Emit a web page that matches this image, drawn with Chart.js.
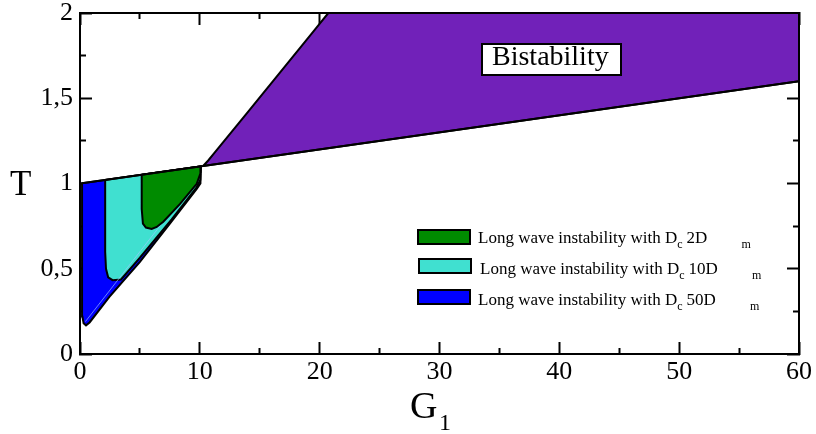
<!DOCTYPE html>
<html>
<head>
<meta charset="utf-8">
<script src="https://cdn.jsdelivr.net/npm/chart.js@4.4.1/dist/chart.umd.min.js"></script>
<style>
  body { margin: 0; background: #fff; }
  #wrap { position: relative; width: 816px; height: 434px; font-family: 'Liberation Serif', 'Times New Roman', serif; color: #000; }
  #wrap canvas { position: absolute; left: 0; top: 0; }
  .txt { position: absolute; white-space: nowrap; line-height: 1; }
  .sub { position: relative; top: 5px; font-size: 12px; }
  .sub.c { margin-right: 4px; }
  .sub.m { margin-left: 34px; }
  .swatch { position: absolute; width: 54px; height: 16px; border: 2px solid #000; box-sizing: border-box; }
  .leg { font-size: 17px; }
  #bistBox { position: absolute; left: 481px; top: 43px; width: 141px; height: 33px; border: 2px solid #000; background: #fff; box-sizing: border-box; }
</style>
</head>
<body>
<div id="wrap">
  <canvas id="chart" width="816" height="434"></canvas>

  <div id="bistBox"></div>
  <div class="txt" style="left:492px; top:42px; font-size:28px;">Bistability</div>

  <div class="swatch" style="left:417px; top:229px; background:#008b00;"></div>
  <div class="txt leg" style="left:478px; top:229px;">Long wave instability with D<span class="sub c">c</span>2D<span class="sub m">m</span></div>
  <div class="swatch" style="left:418px; top:258px; background:#40e0d0;"></div>
  <div class="txt leg" style="left:480px; top:260px;">Long wave instability with D<span class="sub c">c</span>10D<span class="sub m">m</span></div>
  <div class="swatch" style="left:417px; top:289px; background:#0000ff;"></div>
  <div class="txt leg" style="left:478px; top:291px;">Long wave instability with D<span class="sub c">c</span>50D<span class="sub m">m</span></div>

  <div class="txt" style="left:10px; top:166px; font-size:35px;">T</div>
  <div class="txt" style="left:410px; top:386px; font-size:38px;">G</div>
  <div class="txt" style="left:439px; top:410px; font-size:24px;">1</div>
</div>

<script>
// tick values
const xTickValues = [0, 10, 20, 30, 40, 50, 60];
const xMinorValues = [5, 15, 25, 35, 45, 55];
const yTickValues = [0, 0.5, 1, 1.5, 2];
const yMinorValues = [0.25, 0.75, 1.25, 1.75];

// bistability region (purple)
const bistG = [10.27, 10.7, 11.2, 13.9, 16.7, 19.5, 20.72, 60, 60, 10.27];
const bistT = [1.1027, 1.135, 1.178, 1.41, 1.652, 1.894, 2, 2, 1.6, 1.1027];

// long wave instability, Dc = 50 Dm (blue)
const dc50G = [0.17, 10.08, 10.05, 9.74, 7.5, 5.0, 2.45, 0.8, 0.5, 0.3, 0.2, 0.17, 0.17];
const dc50T = [1.0017, 1.1008, 1.0, 0.968, 0.765, 0.54, 0.335, 0.185, 0.168, 0.18, 0.22, 0.3, 1.0017];

// long wave instability, Dc = 10 Dm (turquoise)
const dc10G = [2.1, 10.08, 10.04, 9.7, 7.65, 5.0, 3.42, 2.72, 2.35, 2.17, 2.1, 2.1];
const dc10T = [1.021, 1.1008, 1.02, 0.975, 0.79, 0.565, 0.437, 0.433, 0.45, 0.5, 0.6, 1.021];

// long wave instability, Dc = 2 Dm (green)
const dc2G = [5.15, 10.08, 10.05, 9.74, 8.35, 6.95, 6.4, 5.98, 5.5, 5.25, 5.15, 5.15];
const dc2T = [1.0515, 1.1008, 1.06, 0.998, 0.88, 0.776, 0.745, 0.734, 0.742, 0.765, 0.85, 1.0515];

// upper straight boundary
const lineG = [0, 60];
const lineT = [1, 1.6];

// faint seam inside the instability regions
const seamG = [0.45, 10.1];
const seamT = [0.19, 1.06];

const pts = (gs, ts) => gs.map((g, i) => ({x: g, y: ts[i]}));
const serif = "'Liberation Serif', 'Times New Roman', serif";

function region(label, g, t, color, order) {
    return {
        label: label,
        data: pts(g, t),
        fill: 'shape',
        backgroundColor: color,
        borderColor: '#000',
        borderWidth: 2,
        pointRadius: 0,
        tension: 0,
        order: order
    };
}

const border = {display: true, width: 2, color: '#000'};

function axis(dir, position, values, tickLen, weight, size, showLabels, min, max) {
    return {
        type: 'linear',
        axis: dir,
        position: position,
        min: min,
        max: max,
        weight: weight,
        afterBuildTicks: function (s) { s.ticks = values.map(v => ({value: v})); },
        afterFit: function (s) {
            if (dir === 'x') { s.height = size; } else { s.width = size; }
            // no extra room for labels hanging over the ends
            s.paddingTop = 0; s.paddingBottom = 0; s.paddingLeft = 0; s.paddingRight = 0;
        },
        grid: {drawOnChartArea: false, drawTicks: true, tickLength: tickLen, tickWidth: 2, tickColor: '#000'},
        border: border,
        ticks: {
            display: showLabels,
            autoSkip: false,
            maxRotation: 0,
            color: '#000',
            font: {family: serif, size: 26},
            padding: dir === 'x' ? 15 : 19,
            callback: v => String(v).replace('.', ',')
        }
    };
}

new Chart(document.getElementById('chart'), {
    type: 'line',
    data: {
        datasets: [
            {label: 'boundary', data: pts(lineG, lineT), borderColor: '#000', borderWidth: 2, pointRadius: 0, fill: false, order: 0},
            region('Dc 2Dm', dc2G, dc2T, '#008b00', 1),
            {label: 'seam', data: pts(seamG, seamT), borderColor: 'rgba(160,200,255,0.8)', borderWidth: 0.8, pointRadius: 0, fill: false, order: 2},
            region('Dc 10Dm', dc10G, dc10T, '#40e0d0', 3),
            region('Dc 50Dm', dc50G, dc50T, '#0000ff', 4),
            region('Bistability', bistG, bistT, '#7121b9', 5)
        ]
    },
    options: {
        responsive: false,
        animation: false,
        devicePixelRatio: 1,
        layout: {padding: {top: 13, right: 17, left: 0, bottom: 0}},
        plugins: {legend: {display: false}, tooltip: {enabled: false}},
        events: [],
        scales: {
            x: axis('x', 'bottom', xTickValues, -12, 1, 80, true, 0, 60),
            xMinor: axis('x', 'bottom', xMinorValues, -6, 0, 0, false, 0, 60),
            xTop: axis('x', 'top', xTickValues, -12, 1, 0, false, 0, 60),
            xTopMinor: axis('x', 'top', xMinorValues, -6, 0, 0, false, 0, 60),
            y: axis('y', 'left', yTickValues, -12, 1, 80, true, 0, 2),
            yMinor: axis('y', 'left', yMinorValues, -6, 0, 0, false, 0, 2),
            yRight: axis('y', 'right', yTickValues, -12, 1, 0, false, 0, 2),
            yRightMinor: axis('y', 'right', yMinorValues, -6, 0, 0, false, 0, 2)
        }
    }
});
</script>
</body>
</html>
